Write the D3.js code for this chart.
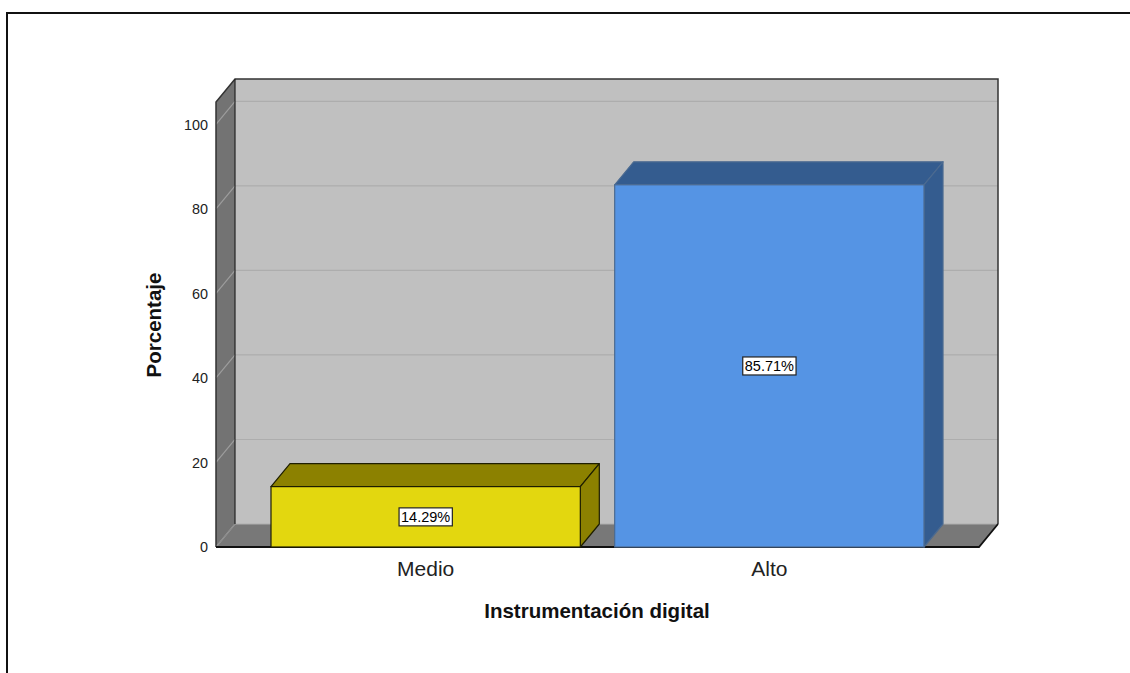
<!DOCTYPE html>
<html>
<head>
<meta charset="utf-8">
<script src="https://cdn.jsdelivr.net/npm/d3@7"></script>
<style>
  html, body { margin: 0; padding: 0; background: #ffffff; }
  svg { display: block; font-family: "Liberation Sans", Arial, sans-serif; }
</style>
</head>
<body>
<svg id="chart" width="1130" height="673"></svg>
<script>
// Data
const categories = ["Medio", "Alto"];
const percentages = [14.29, 85.71];
const valueLabels = ["14.29%", "85.71%"];
const yTicks = [0, 20, 40, 60, 80, 100];
const frontColors = ["#e3d70f", "#5594e4"];
const shadeColors = ["#8c8100", "#345c8f"];
const edgeColors = ["#1e1e00", "#4b6a90"];

const svg = d3.select("#chart");

// Outer frame
svg.append("path")
  .attr("d", "M7,673 L7,13 L1130,13")
  .attr("fill", "none").attr("stroke", "#111").attr("stroke-width", 2);

// 3D layout
const depthX = 19, depthY = 23;
const x = d3.scaleBand().domain(categories).range([216, 979])
  .paddingInner(0.1).paddingOuter(0.16);
const y = d3.scaleLinear().domain([0, 105.3]).range([547, 102]);
const [x0, x1] = x.range();
const yBase = y(0), yTop = y.range()[1];

// Back wall
svg.append("rect")
  .attr("x", x0 + depthX).attr("y", yTop - depthY)
  .attr("width", x1 - x0).attr("height", yBase - yTop)
  .attr("fill", "#c0c0c0");

// Left side wall
svg.append("polygon")
  .attr("points", [[x0, yTop], [x0 + depthX, yTop - depthY], [x0 + depthX, yBase - depthY], [x0, yBase]].join(" "))
  .attr("fill", "#737373");

// Floor
svg.append("polygon")
  .attr("points", [[x0, yBase], [x0 + depthX, yBase - depthY], [x1 + depthX, yBase - depthY], [x1, yBase]].join(" "))
  .attr("fill", "#787878");

// Gridlines on back wall and side wall
const grid = svg.append("g");
yTicks.forEach(t => {
  grid.append("line")
    .attr("x1", x0 + depthX).attr("x2", x1 + depthX)
    .attr("y1", y(t) - depthY).attr("y2", y(t) - depthY)
    .attr("stroke", "#adadad").attr("stroke-width", 1.2);
  grid.append("line")
    .attr("x1", x0).attr("x2", x0 + depthX)
    .attr("y1", y(t)).attr("y2", y(t) - depthY)
    .attr("stroke", "#9d9d9d").attr("stroke-width", 1.2);
});

// Wall edges
svg.append("path")
  .attr("d", `M${x0},${yBase} L${x0},${yTop} L${x0 + depthX},${yTop - depthY} L${x1 + depthX},${yTop - depthY} L${x1 + depthX},${yBase - depthY}`)
  .attr("fill", "none").attr("stroke", "#333").attr("stroke-width", 1.5);
svg.append("line")
  .attr("x1", x0 + depthX).attr("x2", x0 + depthX)
  .attr("y1", yTop - depthY).attr("y2", yBase - depthY)
  .attr("stroke", "#222").attr("stroke-width", 1.2);
svg.append("line")
  .attr("x1", x0 + depthX).attr("x2", x0)
  .attr("y1", yBase - depthY).attr("y2", yBase)
  .attr("stroke", "#8a8a8a").attr("stroke-width", 1);
svg.append("path")
  .attr("d", `M${x0},${yBase} L${x1},${yBase} L${x1 + depthX},${yBase - depthY}`)
  .attr("fill", "none").attr("stroke", "#111").attr("stroke-width", 1.8);

// Bars
const bars = svg.append("g");
categories.forEach((c, i) => {
  const bx = x(c), bw = x.bandwidth(), by = y(percentages[i]);
  const g = bars.append("g");
  g.append("polygon")
    .attr("points", [[bx, by], [bx + depthX, by - depthY], [bx + bw + depthX, by - depthY], [bx + bw, by]].join(" "))
    .attr("fill", shadeColors[i]).attr("stroke", edgeColors[i]).attr("stroke-width", 1.2)
    .attr("stroke-linejoin", "round");
  g.append("polygon")
    .attr("points", [[bx + bw, by], [bx + bw + depthX, by - depthY], [bx + bw + depthX, yBase - depthY], [bx + bw, yBase]].join(" "))
    .attr("fill", shadeColors[i]).attr("stroke", edgeColors[i]).attr("stroke-width", 1.2)
    .attr("stroke-linejoin", "round");
  g.append("rect")
    .attr("x", bx).attr("y", by).attr("width", bw).attr("height", yBase - by)
    .attr("fill", frontColors[i]).attr("stroke", edgeColors[i]).attr("stroke-width", 1.2);

  // Value label box on the front face
  const cx = bx + bw / 2, cy = (by + yBase) / 2;
  const lbl = g.append("g");
  const txt = lbl.append("text")
    .attr("x", cx).attr("y", cy).attr("dy", "0.35em")
    .attr("text-anchor", "middle").attr("font-size", 14.5).attr("fill", "#000")
    .text(valueLabels[i]);
  const bb = txt.node().getBBox();
  lbl.insert("rect", "text")
    .attr("x", bb.x - 2).attr("y", bb.y - 1).attr("width", bb.width + 4).attr("height", bb.height + 2)
    .attr("fill", "#fff").attr("stroke", "#222").attr("stroke-width", 1.2);
});

// Y axis tick labels
const yAxis = d3.axisLeft(y).tickValues(yTicks).tickSize(0).tickPadding(8);
const ya = svg.append("g").attr("transform", `translate(${x0},0)`).call(yAxis);
ya.select(".domain").remove();
ya.selectAll("text").attr("font-size", 14.4).attr("fill", "#222")
  .attr("font-family", "Liberation Sans, Arial, sans-serif");

// X axis category labels
const xAxis = d3.axisBottom(x).tickSize(0).tickPadding(14);
const xa = svg.append("g").attr("transform", `translate(0,${yBase})`).call(xAxis);
xa.select(".domain").remove();
xa.selectAll("text").attr("font-size", 21).attr("fill", "#222")
  .attr("font-family", "Liberation Sans, Arial, sans-serif");

// Axis titles
svg.append("text")
  .attr("transform", "translate(161,325) rotate(-90)")
  .attr("text-anchor", "middle").attr("font-size", 20.5).attr("font-weight", "bold").attr("fill", "#111")
  .text("Porcentaje");
svg.append("text")
  .attr("x", 597).attr("y", 618)
  .attr("text-anchor", "middle").attr("font-size", 20.5).attr("font-weight", "bold").attr("fill", "#111")
  .text("Instrumentación digital");
</script>
</body>
</html>
